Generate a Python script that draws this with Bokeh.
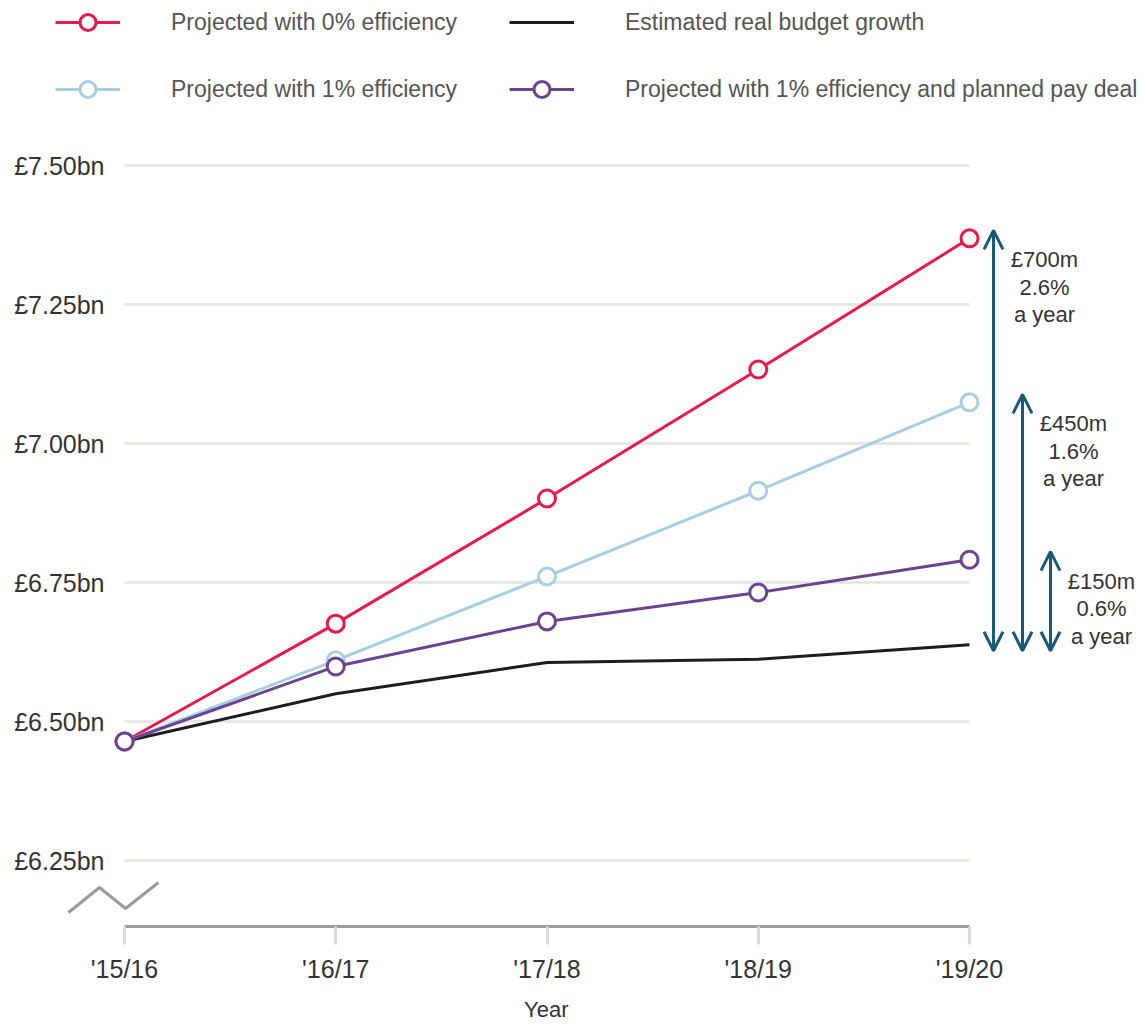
from bokeh.plotting import figure
from bokeh.models import (Range1d, FixedTicker, Legend, LegendItem, Arrow, OpenHead,
                          ColumnDataSource, Title)
from bokeh.core.properties import value
from bokeh.embed import file_html
from bokeh.resources import INLINE

# ---- data -----------------------------------------------------------------
years = ["'15/16", "'16/17", "'17/18", "'18/19", "'19/20"]
zero_efficiency = [6.464, 6.676, 6.901, 7.133, 7.369]
one_efficiency = [6.464, 6.610, 6.761, 6.915, 7.074]
one_efficiency_pay = [6.464, 6.599, 6.680, 6.732, 6.791]
real_growth = [6.464, 6.550, 6.606, 6.612, 6.638]

y_ticks = [6.25, 6.50, 6.75, 7.00, 7.25, 7.50]
y_tick_labels = ["£6.25bn", "£6.50bn", "£6.75bn", "£7.00bn", "£7.25bn", "£7.50bn"]

gap_labels = ["£700m\n2.6%\na year", "£450m\n1.6%\na year", "£150m\n0.6%\na year"]

# ---- layout constants (pixels) ---------------------------------------------
W, H = 1142, 1030
FRAME_H = 926          # frame bottom sits on the x axis line
X0_PX = 124            # pixel position of the first year
PX_PER_YEAR = 211.25
Y_REF, Y_REF_PX = 6.50, 721
PX_PER_BN = 556.0

FONT = "Liberation Sans"
RED = "#e8194c"
LIGHT_BLUE = "#a6cfe3"
PURPLE = "#6d4290"
BLACK = "#1d1d1b"
ARROW = "#17597b"
GRID = "#e8e8e3"
TEXT = "#333333"


def dx(px):
    return px / PX_PER_YEAR


def dy(px):
    return px / PX_PER_BN


x = list(range(len(years)))
last = x[-1]
y_base = Y_REF - dy(FRAME_H - Y_REF_PX)

p = figure(width=W, height=H, output_backend="svg", toolbar_location=None,
           x_range=Range1d(dx(-X0_PX), dx(W - X0_PX)),
           y_range=Range1d(y_base, Y_REF + dy(Y_REF_PX)),
           min_border_left=0, min_border_right=0, min_border_top=0,
           min_border_bottom=H - FRAME_H, outline_line_color=None,
           background_fill_color="white", border_fill_color="white")
p.yaxis.visible = False
p.xgrid.visible = False
p.ygrid.visible = False

# x axis: grey rule between first and last year, light ticks hanging below
xa = p.xaxis[0]
xa.bounds = (x[0], last)
xa.ticker = FixedTicker(ticks=x)
xa.major_label_overrides = {i: s for i, s in enumerate(years)}
xa.axis_line_color = "#9b9b99"
xa.axis_line_width = 3
xa.major_tick_line_color = "#dcdcd4"
xa.major_tick_line_width = 3
xa.major_tick_out = 18
xa.major_tick_in = 0
xa.minor_tick_line_color = None
xa.major_label_standoff = 10
xa.major_label_text_font = FONT
xa.major_label_text_font_size = "25px"
xa.major_label_text_color = TEXT

# axis title, centred under the span of years rather than the whole frame
years_centre_px = X0_PX + PX_PER_YEAR * (x[0] + last) / 2
title_half_width_px = 23
p.add_layout(Title(text="Year", align="left", offset=years_centre_px - title_half_width_px,
                   standoff=18, text_font=FONT, text_font_size="22px",
                   text_font_style="normal", text_color=TEXT), "below")

# horizontal gridlines spanning the years only
p.segment(x0=[x[0]] * len(y_ticks), x1=[last] * len(y_ticks), y0=y_ticks, y1=y_ticks,
          line_color=GRID, line_width=3)

# y tick labels
p.text(x=[dx(-20)] * len(y_ticks), y=y_ticks, text=y_tick_labels,
       text_font=value(FONT), text_font_size="25px", text_color=TEXT,
       text_align="right", text_baseline="middle")

# axis-break zigzag under the lowest label
zz_px = [(-56, 14), (-25, 39), (1, 18), (34, 44)]
p.line(x=[dx(a) for a, _ in zz_px], y=[y_base + dy(b) for _, b in zz_px],
       line_color="#9a9a98", line_width=3)

# series
black_r = p.line(x, real_growth, line_color=BLACK, line_width=3)

series = [(zero_efficiency, RED), (one_efficiency, LIGHT_BLUE), (one_efficiency_pay, PURPLE)]
rends = []
for vals, col in series:
    lr = p.line(x, vals, line_color=col, line_width=3)
    sr = p.scatter(x, vals, marker="circle", size=17, fill_color="white",
                   line_color=col, line_width=3)
    rends.append((lr, sr))

# gap arrows from the real-growth end point to each projection end point
arrow_offsets_px = [24, 53, 81]
tops = [zero_efficiency[-1], one_efficiency[-1], one_efficiency_pay[-1]]
base = real_growth[-1]
for off, top in zip(arrow_offsets_px, tops):
    ax = last + dx(off)
    p.add_layout(Arrow(x_start=ax, y_start=base - dy(6), x_end=ax, y_end=top + dy(8),
                       line_color=ARROW, line_width=3,
                       start=OpenHead(size=19, line_color=ARROW, line_width=3),
                       end=OpenHead(size=19, line_color=ARROW, line_width=3)))

gap_src = ColumnDataSource(dict(x=[last + dx(o + 51) for o in arrow_offsets_px],
                                y=tops, text=gap_labels))
p.text(x="x", y="y", text="text", source=gap_src, y_offset=49,
       text_font=value(FONT), text_font_size="22px", text_color=TEXT,
       text_align="center", text_baseline="middle", text_line_height=1.1)

# legend
items = [
    LegendItem(label="Projected with 0% efficiency", renderers=list(rends[0])),
    LegendItem(label="Projected with 1% efficiency", renderers=list(rends[1])),
    LegendItem(label="Estimated real budget growth", renderers=[black_r]),
    LegendItem(label="Projected with 1% efficiency and planned pay deal", renderers=list(rends[2])),
]
legend = Legend(items=items, ncols=2, location=(55, FRAME_H - 109),
                glyph_width=65, glyph_height=40, label_height=40, label_width=311,
                label_standoff=51, spacing=27, padding=0, margin=0,
                border_line_color=None, background_fill_alpha=0,
                label_text_font=FONT, label_text_font_size="23px",
                label_text_color="#555555")
p.add_layout(legend)

open("out.html", "w").write(file_html(p, INLINE))
